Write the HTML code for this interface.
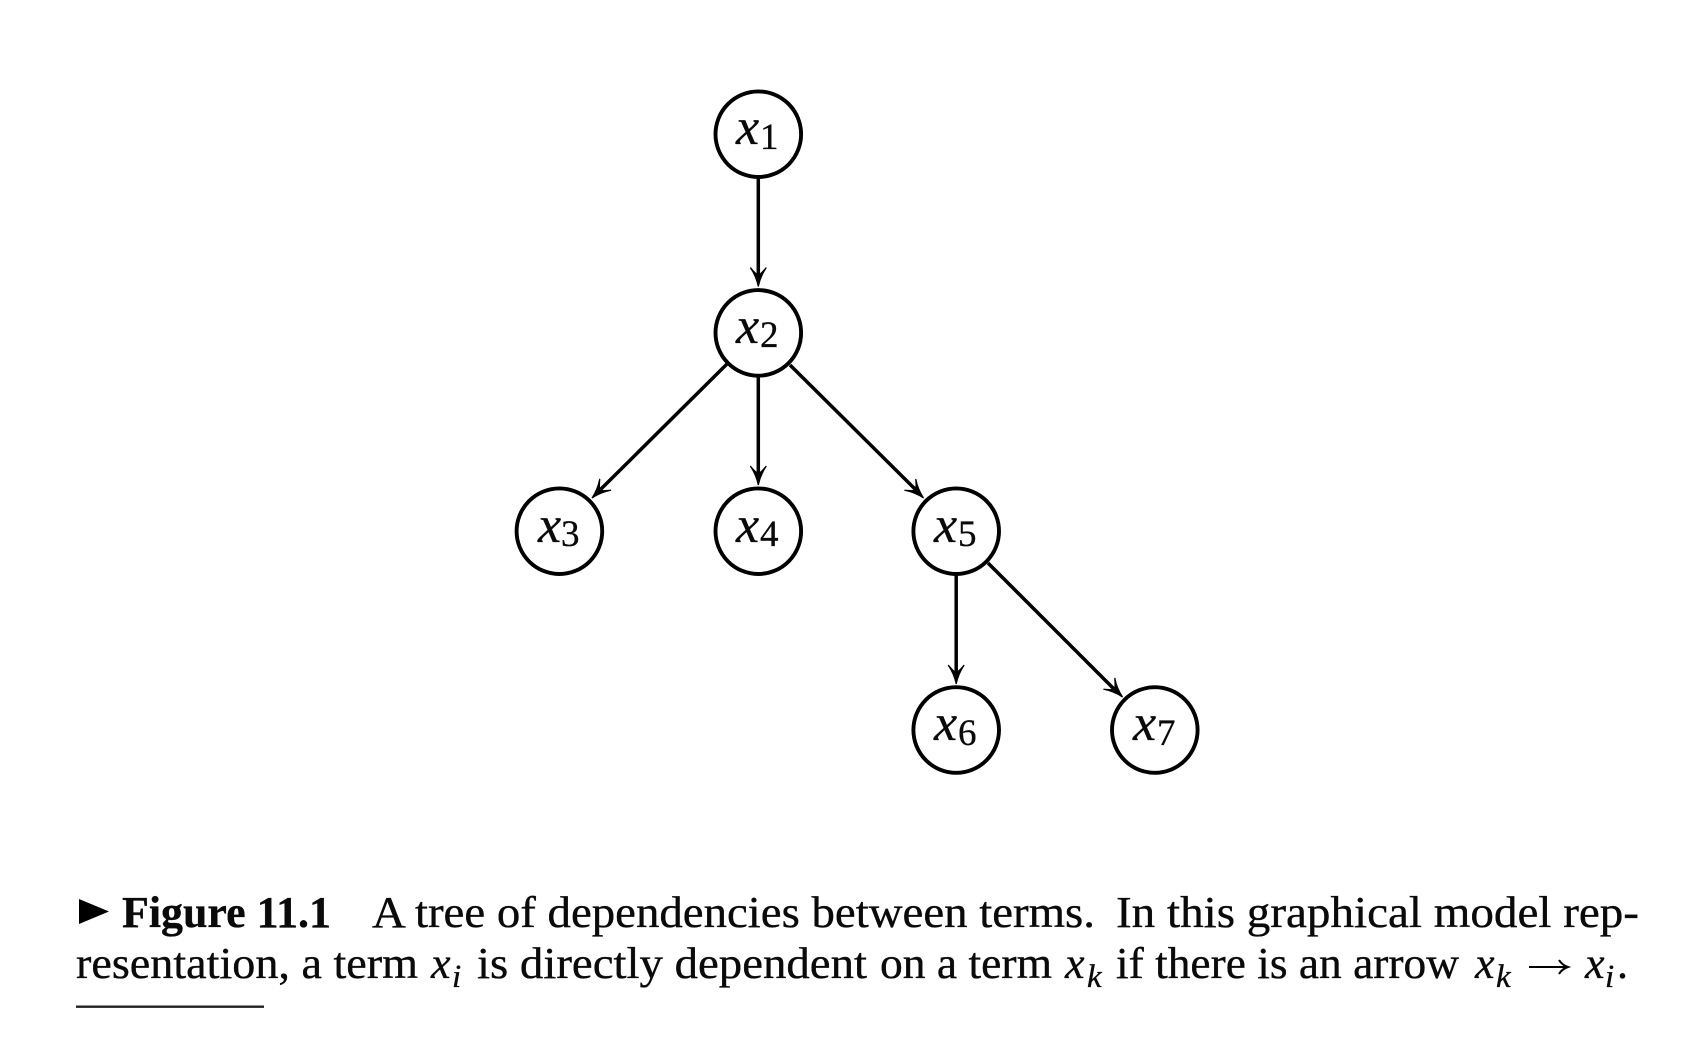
<!DOCTYPE html>
<html>
<head>
<meta charset="utf-8">
<style>
html,body{margin:0;padding:0;background:#fff;width:1708px;height:1062px;overflow:hidden}
svg{display:block}
.l{font-family:"Liberation Serif",serif;fill:#0a0a0a;stroke:#0a0a0a;stroke-width:.35}
.v{font-style:italic;font-size:52px}
.s{font-size:37px}
.c{font-size:44px}
.i{font-style:italic}
</style>
</head>
<body>
<svg width="1708" height="1062" viewBox="0 0 1708 1062" xmlns="http://www.w3.org/2000/svg">
<defs>
<path id="h" d="M0 0 Q-10 -2 -19 -8 Q-13 -3 -11 0 Q-13 3 -19 8 Q-10 2 0 0Z" fill="#000" stroke="#000" stroke-width="1.2"/>
</defs>
<g fill="#fff" stroke="#000" stroke-width="3.9">
<circle cx="758.3" cy="134.2" r="42.8"/>
<circle cx="758.3" cy="332.9" r="42.8"/>
<circle cx="559.4" cy="531.2" r="42.8"/>
<circle cx="758.3" cy="531.2" r="42.8"/>
<circle cx="956.2" cy="531.2" r="42.8"/>
<circle cx="956.2" cy="730" r="42.8"/>
<circle cx="1154.8" cy="730" r="42.8"/>
</g>
<g stroke="#000" stroke-width="3.5" fill="none">
<line x1="758.3" y1="178" x2="758.3" y2="276"/>
<line x1="758.3" y1="376" x2="758.3" y2="475"/>
<line x1="727" y1="364" x2="600" y2="490"/>
<line x1="790" y1="365" x2="916" y2="490"/>
<line x1="956.2" y1="575" x2="956.2" y2="674"/>
<line x1="988" y1="563" x2="1114" y2="689"/>
</g>
<use href="#h" transform="translate(758.3 286.5) rotate(90)"/>
<use href="#h" transform="translate(758.3 485) rotate(90)"/>
<use href="#h" transform="translate(592 498) rotate(135)"/>
<use href="#h" transform="translate(923.5 498) rotate(45)"/>
<use href="#h" transform="translate(956.2 684) rotate(90)"/>
<use href="#h" transform="translate(1122.5 697) rotate(45)"/>

<g class="l">
<text class="v" x="736" y="144">x</text><text class="s" x="760" y="149">1</text>
<text class="v" x="736" y="343">x</text><text class="s" x="760" y="347">2</text>
<text class="v" x="538" y="542">x</text><text class="s" x="561" y="546">3</text>
<text class="v" x="736" y="542">x</text><text class="s" x="760" y="546">4</text>
<text class="v" x="934" y="542">x</text><text class="s" x="958" y="546">5</text>
<text class="v" x="934" y="740">x</text><text class="s" x="958" y="745">6</text>
<text class="v" x="1133" y="740">x</text><text class="s" x="1157" y="745">7</text>
</g>

<polygon points="79,899 109,911.5 79,924" fill="#000"/>
<g class="l c">
<text x="122" y="927" font-weight="bold" textLength="209" lengthAdjust="spacingAndGlyphs">Figure 11.1</text>
<text x="372" y="927" textLength="723" lengthAdjust="spacingAndGlyphs">A tree of dependencies between terms.</text>
<text x="1116" y="927" textLength="523" lengthAdjust="spacingAndGlyphs">In this graphical model rep-</text>
<text x="76" y="978" textLength="342" lengthAdjust="spacingAndGlyphs">resentation, a term</text>
<text x="431" y="978" class="i">x</text><text x="452" y="987" class="i" font-size="33">i</text>
<text x="477" y="978" textLength="390" lengthAdjust="spacingAndGlyphs">is directly dependent</text>
<text x="880" y="978" textLength="172" lengthAdjust="spacingAndGlyphs">on a term</text>
<text x="1065" y="978" class="i">x</text><text x="1087" y="987" class="i" font-size="33">k</text>
<text x="1116" y="978" textLength="343" lengthAdjust="spacingAndGlyphs">if there is an arrow</text>
<text x="1475" y="978" class="i">x</text><text x="1496" y="987" class="i" font-size="33">k</text>
<text x="1585" y="978" class="i">x</text><text x="1605" y="987" class="i" font-size="33">i</text>
<text x="1617" y="978">.</text>
</g>
<g stroke="#000" fill="none" stroke-width="2">
<line x1="1529" y1="967" x2="1567" y2="967"/>
<path d="M1559 960 Q1562 965 1568 967 Q1562 969 1559 974"/>
</g>
<rect x="76" y="1005.5" width="188" height="2.4" fill="#222"/>
</svg>
</body>
</html>
